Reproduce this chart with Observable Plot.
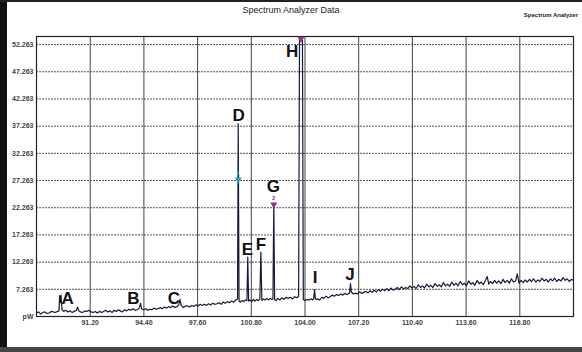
<!DOCTYPE html>
<html>
<head>
<meta charset="utf-8">
<script src="https://cdn.jsdelivr.net/npm/d3@7"></script>
<script src="https://cdn.jsdelivr.net/npm/@observablehq/plot@0.6"></script>
<style>
  html, body { margin: 0; padding: 0; background: #fff; }
  #wrap { position: relative; width: 582px; height: 352px; overflow: hidden; background: #fff; font-family: "Liberation Sans", Arial, sans-serif; }
  #leftbar { position: absolute; left: 0; top: 0; width: 7px; height: 352px; background: #111; }
  #topbar { position: absolute; left: 0; top: 0; width: 582px; height: 2px; background: #222; }
  #botbar { position: absolute; left: 0; top: 347px; width: 582px; height: 5px; background: #444; }
  #title { position: absolute; left: 0; width: 582px; top: 5px; text-align: center; font-size: 9px; color: #222; }
  #sub { position: absolute; right: 4px; top: 12px; font-size: 6px; font-weight: bold; color: #222; }
  #chart { position: absolute; left: 0; top: 0; }
</style>
</head>
<body>
<div id="wrap">
  <div id="chart"></div>
  <div id="leftbar"></div>
  <div id="topbar"></div>
  <div id="botbar"></div>
  <div id="title">Spectrum Analyzer Data</div>
  <div id="sub">Spectrum Analyzer</div>
</div>
<script>
// Sweep: [frequency, power]
const sweep = [
  [88.00, 2.9], [88.12, 3.1], [88.25, 2.7], [88.38, 3.0], [88.50, 3.1], [88.62, 2.8], [88.75, 2.9], [88.88, 3.2],
  [89.00, 3.1], [89.12, 3.0], [89.25, 3.2], [89.34, 3.3], [89.38, 6.1], [89.42, 4.8], [89.46, 6.2], [89.52, 3.5],
  [89.62, 3.2], [89.75, 3.4], [89.88, 3.1], [90.00, 3.3], [90.12, 3.0], [90.25, 3.2], [90.38, 3.4], [90.45, 4.0],
  [90.52, 3.3], [90.62, 3.1], [90.75, 3.0], [90.88, 3.3], [91.00, 3.2], [91.12, 3.4], [91.25, 3.1], [91.38, 3.0],
  [91.50, 3.2], [91.62, 2.9], [91.75, 3.2], [91.88, 3.0], [92.00, 3.2], [92.12, 3.4], [92.25, 3.1], [92.38, 3.3],
  [92.50, 3.0], [92.62, 3.4], [92.75, 3.2], [92.88, 3.5], [93.00, 3.3], [93.12, 3.1], [93.25, 3.5], [93.38, 3.3],
  [93.50, 3.6], [93.62, 3.4], [93.75, 3.7], [93.88, 3.4], [94.00, 3.5], [94.12, 3.8], [94.20, 4.7], [94.26, 3.7],
  [94.38, 3.5], [94.50, 3.7], [94.62, 3.4], [94.75, 3.6], [94.88, 3.5], [95.00, 3.8], [95.12, 3.6], [95.25, 3.7],
  [95.38, 3.9], [95.50, 3.7], [95.62, 4.0], [95.75, 3.8], [95.88, 4.1], [96.00, 3.9], [96.12, 4.2], [96.25, 3.9],
  [96.38, 4.1], [96.48, 4.4], [96.55, 5.4], [96.62, 4.3], [96.75, 3.9], [96.88, 4.2], [97.00, 4.2], [97.12, 4.0],
  [97.25, 4.3], [97.38, 4.1], [97.50, 4.4], [97.62, 4.2], [97.75, 4.5], [97.88, 4.3], [98.00, 4.5], [98.12, 4.3],
  [98.25, 4.6], [98.38, 4.4], [98.50, 4.7], [98.62, 4.5], [98.75, 4.6], [98.88, 4.8], [99.00, 4.5], [99.12, 4.9],
  [99.25, 4.7], [99.38, 5.0], [99.50, 4.8], [99.62, 5.1], [99.75, 4.9], [99.88, 5.3], [99.98, 5.5], [100.02, 37.75],
  [100.07, 5.1], [100.15, 4.9], [100.25, 5.2], [100.35, 5.0], [100.45, 5.3], [100.54, 5.2], [100.59, 13.2], [100.64, 5.1],
  [100.72, 5.3], [100.82, 5.0], [100.92, 5.4], [101.02, 5.1], [101.12, 5.4], [101.22, 5.2], [101.31, 5.5], [101.37, 14.1],
  [101.43, 5.2], [101.52, 5.5], [101.62, 5.3], [101.72, 5.6], [101.82, 5.3], [101.92, 5.6], [102.02, 5.4], [102.09, 5.5],
  [102.14, 23.0], [102.19, 5.4], [102.28, 5.2], [102.38, 5.6], [102.50, 5.3], [102.62, 5.7], [102.75, 5.4], [102.88, 5.8],
  [103.00, 5.6], [103.12, 5.8], [103.25, 5.5], [103.38, 5.9], [103.50, 5.7], [103.62, 6.0], [103.68, 60.0], [103.84, 60.0],
  [103.90, 5.4], [104.00, 5.2], [104.12, 5.4], [104.25, 5.3], [104.38, 5.5], [104.46, 5.3], [104.52, 5.6], [104.57, 7.2],
  [104.62, 5.5], [104.70, 5.4], [104.75, 5.5], [104.88, 5.3], [105.00, 5.8], [105.12, 5.6], [105.25, 6.0], [105.38, 5.7],
  [105.50, 5.9], [105.62, 6.2], [105.75, 6.0], [105.88, 6.3], [106.00, 6.1], [106.12, 6.4], [106.25, 6.2], [106.38, 6.5],
  [106.50, 6.3], [106.66, 6.6], [106.71, 8.3], [106.76, 6.8], [106.88, 6.4], [107.00, 6.6], [107.12, 6.4], [107.25, 6.8],
  [107.38, 6.5], [107.50, 6.7], [107.62, 6.9], [107.75, 6.6], [107.88, 7.0], [108.00, 6.7], [108.12, 7.1], [108.25, 6.8],
  [108.38, 7.2], [108.50, 6.9], [108.62, 7.3], [108.75, 7.0], [108.88, 7.4], [109.00, 7.0], [109.12, 7.5], [109.25, 7.1],
  [109.38, 7.3], [109.50, 7.6], [109.62, 7.2], [109.75, 7.7], [109.88, 7.3], [110.00, 7.6], [110.12, 7.4], [110.25, 7.9],
  [110.38, 7.5], [110.50, 7.8], [110.62, 7.4], [110.75, 8.1], [110.88, 7.6], [111.00, 7.9], [111.12, 7.5], [111.25, 8.2],
  [111.38, 7.7], [111.50, 8.0], [111.62, 7.6], [111.75, 8.3], [111.88, 7.8], [112.00, 8.1], [112.12, 7.7], [112.25, 8.5],
  [112.38, 7.9], [112.50, 8.2], [112.62, 7.8], [112.75, 8.6], [112.88, 8.0], [113.00, 8.4], [113.12, 7.9], [113.25, 8.7],
  [113.38, 8.1], [113.50, 8.4], [113.62, 7.9], [113.75, 8.8], [113.88, 8.2], [114.00, 8.5], [114.12, 8.0], [114.25, 8.9],
  [114.38, 8.3], [114.50, 8.6], [114.62, 8.1], [114.75, 8.9], [114.86, 9.6], [114.95, 8.2], [115.05, 8.7], [115.18, 8.3],
  [115.30, 8.9], [115.42, 8.4], [115.55, 8.8], [115.68, 8.3], [115.80, 9.1], [115.92, 8.5], [116.05, 8.9], [116.18, 8.4],
  [116.30, 9.2], [116.42, 8.6], [116.55, 8.8], [116.65, 10.1], [116.75, 8.4], [116.88, 8.9], [117.00, 8.5], [117.12, 9.0],
  [117.25, 8.6], [117.38, 9.1], [117.50, 8.7], [117.62, 9.2], [117.75, 8.6], [117.88, 9.0], [118.00, 8.7], [118.12, 9.3],
  [118.25, 8.8], [118.38, 9.1], [118.50, 8.6], [118.62, 9.2], [118.75, 8.8], [118.88, 9.3], [119.00, 8.7], [119.12, 9.1],
  [119.25, 8.8], [119.38, 9.4], [119.50, 8.9], [119.62, 9.2], [119.75, 8.7], [119.88, 9.1], [120.00, 8.9]
];

// Axis ticks
const yTicks = [2.263, 7.263, 12.263, 17.263, 22.263, 27.263, 32.263, 37.263, 42.263, 47.263, 52.263];
const xTicks = [91.2, 94.4, 97.6, 100.8, 104.0, 107.2, 110.4, 113.6, 116.8];

// Peak labels (annotation anchor in data units)
const labelText = ["A", "B", "C", "D", "E", "F", "G", "H", "I", "J"];
const labelFreq = [89.85, 93.78, 96.19, 100.04, 100.57, 101.38, 102.12, 103.23, 104.60, 106.68];
const labelPower = [5.57, 5.57, 5.57, 39.22, 14.58, 15.50, 26.17, 50.90, 9.34, 9.99];

// Markers
const markerName = ["1", "2", ""];
const markerFreq = [100.02, 102.14, 103.76];
const markerPower = [27.64, 23.04, 53.5];
const markerColor = ["#1fa3c4", "#9c2a8c", "#a0308f"];

const spectrum = sweep.map(([f, p]) => ({f, p}));
const labels = labelText.map((t, i) => ({t, f: labelFreq[i], p: labelPower[i]}));
const markers = markerName.map((n, i) => ({n, f: markerFreq[i], p: markerPower[i], c: markerColor[i]}));

const chart = Plot.plot({
  width: 582,
  height: 352,
  marginLeft: 36,
  marginRight: 9,
  marginTop: 36,
  marginBottom: 36,
  style: {background: "transparent", fontFamily: "Liberation Sans, Arial, sans-serif"},
  x: {domain: [88, 120]},
  y: {domain: [2.263, 53.75]},
  marks: [
    Plot.ruleY(yTicks.slice(1), {stroke: "#555", strokeWidth: 1, strokeDasharray: "2,1"}),
    Plot.ruleX(xTicks, {stroke: "#444", strokeWidth: 1}),
    Plot.line(spectrum, {x: "f", y: "p", stroke: "#1a1838", strokeWidth: 1.2, clip: true}),
    Plot.frame({stroke: "#222", strokeWidth: 1.2}),
    Plot.axisY(yTicks, {tickSize: 0, tickPadding: 3, fontSize: 7, fontWeight: "bold", fill: "#444",
      tickFormat: d => d < 3 ? "pW" : d3.format(".3f")(d), label: null}),
    Plot.axisX(xTicks, {tickSize: 0, tickPadding: 4, fontSize: 7, fontWeight: "bold", fill: "#444",
      tickFormat: d3.format(".2f"), label: null}),
    Plot.dot(markers, {x: "f", y: "p", symbol: "triangle", rotate: 180, r: 2.6, fill: "c", stroke: "none", dy: 1}),
    Plot.text(markers, {x: "f", y: "p", text: "n", fill: "c", fontSize: 6, fontWeight: "bold", dy: -5}),
    Plot.text(labels, {x: "f", y: "p", text: "t", fontSize: 17, fontWeight: "bold", fill: "#111", fontFamily: "Liberation Sans, Arial, sans-serif"})
  ]
});
document.getElementById("chart").appendChild(chart);
</script>
</body>
</html>
